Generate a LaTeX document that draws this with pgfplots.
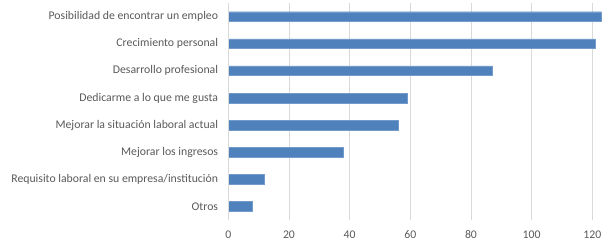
\documentclass[border=0pt]{standalone}
\usepackage{pgfplots}
\pgfplotsset{compat=1.18}
\usepackage{fontspec}
\setmainfont{Carlito}
\definecolor{barblue}{HTML}{4F81BD}
\definecolor{txtgray}{HTML}{595959}
\definecolor{gridgray}{HTML}{D9D9D9}
\begin{document}
\begin{tikzpicture}
\begin{axis}[
  at={(0,0)}, anchor=south west,
  scale only axis,
  width=373.7bp, height=217bp,
  xmin=0, xmax=123.2,
  ymin=-0.5, ymax=7.5,
  y dir=reverse,
  xbar, bar width=9.7bp,
  xtick={0,20,...,120},
  ytick={0,...,7},
  yticklabels={Posibilidad de encontrar un empleo,Crecimiento personal,Desarrollo profesional,Dedicarme a lo que me gusta,Mejorar la situación laboral actual,Mejorar los ingresos,Requisito laboral en su empresa/institución,Otros},
  xmajorgrids, grid style={gridgray, line width=0.8pt},
  axis line style={draw=none},
  major tick length=0pt,
  tick label style={font=\fontsize{11.8}{13}\selectfont, text=txtgray},
  /pgf/number format/assume math mode=true,
  xticklabel style={yshift=-7bp},
  yticklabel style={xshift=-6.7bp},
  clip=false,
]
\addplot[fill=barblue, draw=barblue!80!white, line width=0.4pt] coordinates {
(123,0) (121,1) (87,2) (59,3) (56,4) (38,5) (12,6) (8,7)
};
\end{axis}
\draw[gridgray, line width=0.8pt] (0,0) -- (0,217bp);
\pgfresetboundingbox
\path (-228.3bp,-23bp) rectangle (373.7bp,220bp);
\end{tikzpicture}
\end{document}
